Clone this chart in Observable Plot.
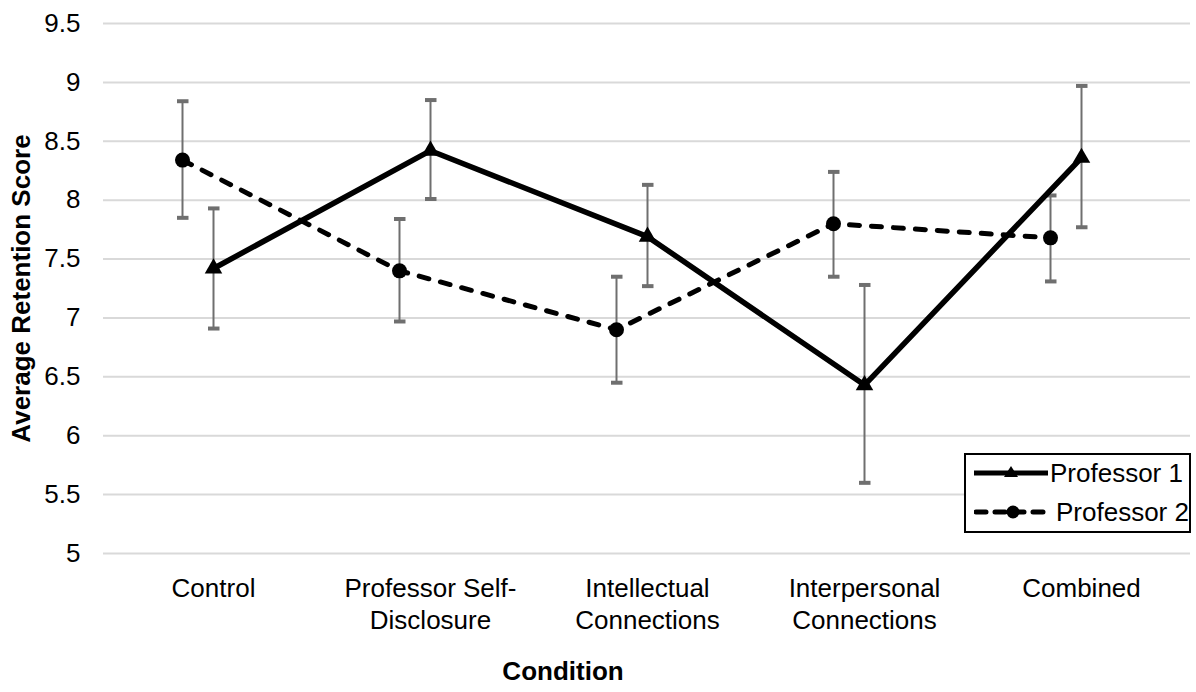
<!DOCTYPE html>
<html><head><meta charset="utf-8">
<script src="https://cdn.jsdelivr.net/npm/d3@7"></script>
<script src="https://cdn.jsdelivr.net/npm/@observablehq/plot@0.6"></script>
<style>
body{margin:0;background:#fff;font-family:"Liberation Sans",Arial,sans-serif;}
#wrap{position:relative;width:1196px;height:692px;}
#legend{position:absolute;left:964px;top:453px;width:223px;height:76px;border:2px solid #000;background:#fff;font-size:26px;color:#000;}
.row{position:absolute;left:8px;display:flex;align-items:center;height:30px;}
.row svg{display:block;}
</style></head><body><div id="wrap"></div>
<script>
const conditions = ["Control","Professor Self-Disclosure","Intellectual Connections","Interpersonal Connections","Combined"];
const tickLabels = ["Control","Professor Self-\nDisclosure","Intellectual\nConnections","Interpersonal\nConnections","Combined"];
const prof1Mean = [7.42, 8.42, 7.69, 6.43, 8.36];
const prof1Low  = [6.91, 8.01, 7.27, 5.60, 7.77];
const prof1High = [7.93, 8.85, 8.13, 7.28, 8.97];
const prof2Mean = [8.34, 7.40, 6.90, 7.80, 7.68];
const prof2Low  = [7.85, 6.97, 6.45, 7.35, 7.31];
const prof2High = [8.84, 7.84, 7.35, 8.24, 8.04];
const yTicks = [5, 5.5, 6, 6.5, 7, 7.5, 8, 8.5, 9, 9.5];
const seriesNames = ["Professor 1", "Professor 2"];
const xTitle = "Condition";
const yTitle = "Average Retention Score";

const p1 = conditions.map((c, i) => ({c, m: prof1Mean[i], lo: prof1Low[i], hi: prof1High[i]}));
const p2 = conditions.map((c, i) => ({c, m: prof2Mean[i], lo: prof2Low[i], hi: prof2High[i]}));
const FONT = "'Liberation Sans', Arial, sans-serif";

const chart = Plot.plot({
  width: 1196,
  height: 692,
  marginTop: 23,
  marginBottom: 139,
  marginLeft: 103,
  marginRight: 6,
  style: {fontFamily: FONT, fontSize: "26px", color: "#000", background: "#fff"},
  x: {type: "point", domain: conditions, padding: 0.5},
  y: {domain: [5, 9.5]},
  marks: [
    Plot.ruleY(yTicks, {stroke: "#d9d9d9", strokeWidth: 2}),
    Plot.axisY({ticks: yTicks, tickSize: 0, tickPadding: 23, fontSize: 26, label: null, tickFormat: d => String(d)}),
    Plot.axisX({tickSize: 0, tickPadding: 21, fontSize: 26, lineHeight: 1.23, label: null,
      tickFormat: d => tickLabels[conditions.indexOf(d)]}),
    Plot.link(p2, {x1: "c", x2: "c", y1: "lo", y2: "hi", dx: -31, stroke: "#6f6f6f", strokeWidth: 2, marker: "tick"}),
    Plot.link(p1, {x1: "c", x2: "c", y1: "lo", y2: "hi", stroke: "#6f6f6f", strokeWidth: 2, marker: "tick"}),
    Plot.line(p2, {x: "c", y: "m", dx: -31, stroke: "#000", strokeWidth: 5, strokeDasharray: "10,12", strokeLinecap: "round"}),
    Plot.line(p1, {x: "c", y: "m", stroke: "#000", strokeWidth: 5.5}),
    Plot.dot(p2, {x: "c", y: "m", dx: -31, r: 7.5, fill: "#000", symbol: "circle"}),
    Plot.dot(p1, {x: "c", y: "m", r: 6.5, fill: "#000", symbol: "triangle"}),
    Plot.text([yTitle], {frameAnchor: "left", textAnchor: "middle", dx: -82, rotate: -90, fontSize: 26, fontWeight: "bold", text: d => d}),
    Plot.text([xTitle], {frameAnchor: "bottom", dx: -84, dy: 126, fontSize: 26, fontWeight: "bold", text: d => d})
  ]
});
document.getElementById("wrap").appendChild(chart);

const legend = document.createElement("div");
legend.id = "legend";
legend.innerHTML = `
<div class="row" style="top:3px">
  <svg width="76" height="30"><line x1="0" x2="74" y1="15" y2="15" stroke="#000" stroke-width="5"/>
  <path d="M37,8 L44,19 L30,19 Z" fill="#000"/></svg>
  <span>${seriesNames[0]}</span></div>
<div class="row" style="top:42px">
  <svg width="82" height="30"><line x1="2" x2="76" y1="15" y2="15" stroke="#000" stroke-width="5" stroke-dasharray="10,9" stroke-linecap="round"/>
  <circle cx="39" cy="15" r="6.5" fill="#000"/></svg>
  <span>${seriesNames[1]}</span></div>`;
document.getElementById("wrap").appendChild(legend);
</script>
</body></html>
